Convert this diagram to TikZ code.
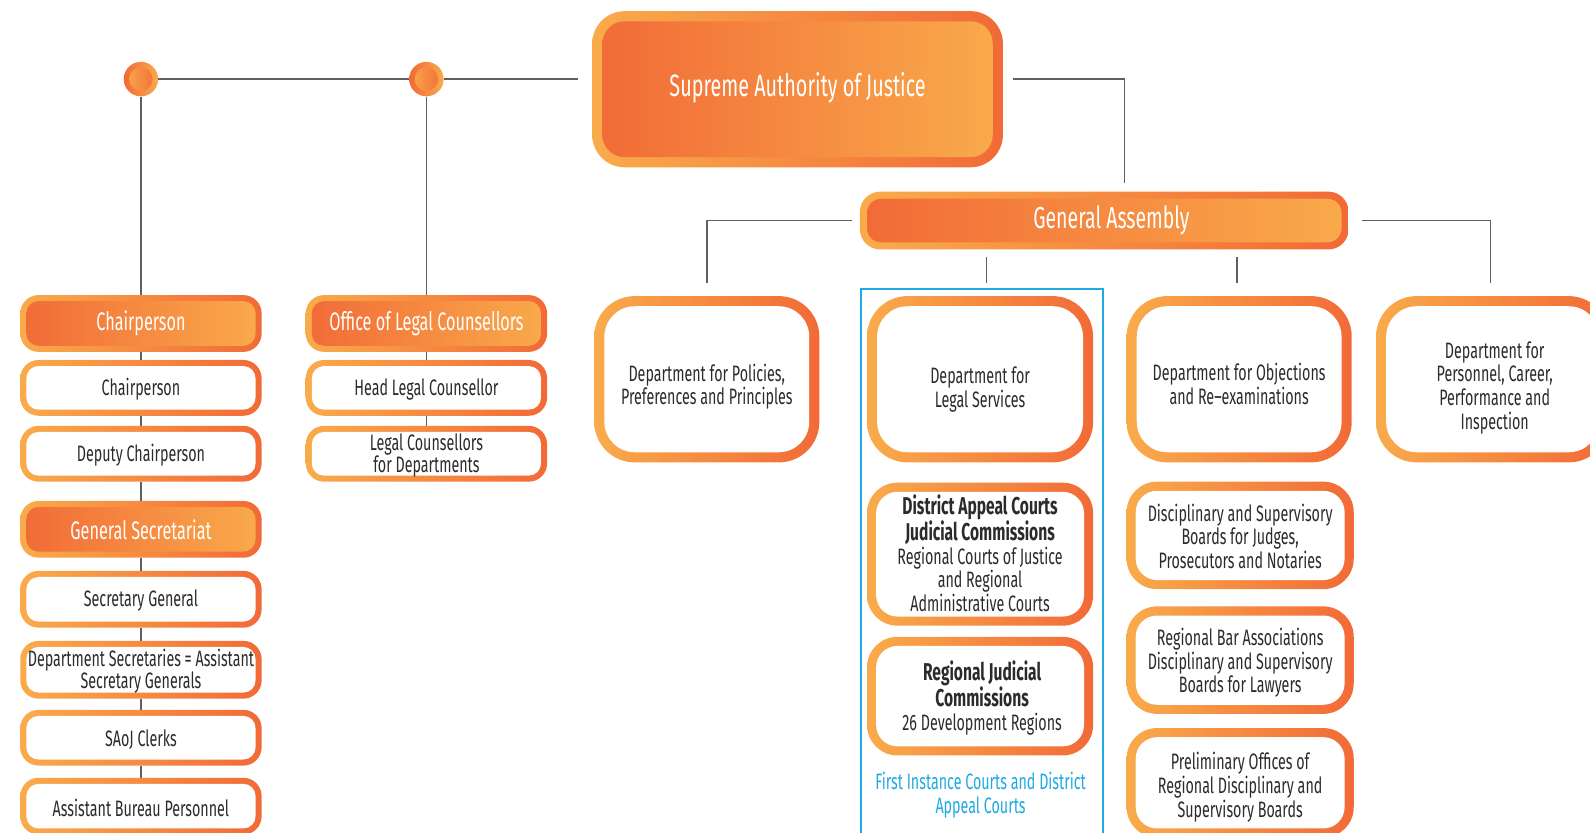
\documentclass[tikz,border=0pt]{standalone}
\usepackage{fontspec}
\setmainfont{Fira Sans}[FakeStretch=0.64]
\usetikzlibrary{calc}

\definecolor{ored}{HTML}{F26A37}
\definecolor{olight}{HTML}{F9AB4B}
\definecolor{cyanb}{HTML}{1FA9E1}
\definecolor{ink}{HTML}{2B2B2B}
\definecolor{wire}{HTML}{5F5F5F}

\newcommand{\smallfs}{\fontsize{22}{22}\selectfont}
\newcommand{\headfs}{\fontsize{25}{26}\selectfont}
\newcommand{\deptfs}{\fontsize{22}{23.5}\selectfont}
\newcommand{\boldline}[1]{{\fontsize{24}{23.5}\selectfont\bfseries #1}}

\tikzset{
  % inner panel drawn inside a node, inset from its edge by #1
  inset/.style n args={3}{path picture={
      \path[#3, rounded corners=#2]
        ([shift={(#1,#1)}]path picture bounding box.south west) rectangle
        ([shift={(-#1,-#1)}]path picture bounding box.north east);}},
  card/.style={rectangle, draw=none, left color=olight, right color=ored,
    align=center, text=ink, inner sep=0pt},
  whitebox/.style={card, minimum width=238pt, minimum height=55pt,
    rounded corners=18pt, inset={6pt}{12pt}{fill=white}},
  headbox/.style={card, minimum width=238pt, minimum height=56pt,
    rounded corners=18pt, inset={6pt}{12pt}{left color=ored, right color=olight}},
  deptbox/.style={card, minimum width=222pt, minimum height=164pt,
    rounded corners=40pt, inset={10pt}{30pt}{fill=white}},
  subbox/.style={card, minimum width=223pt, rounded corners=30pt,
    inset={9pt}{21pt}{fill=white}},
  % box captions
  lbl/.style={align=center, inner sep=0pt, text=ink, font=\smallfs, yshift=-1.5pt},
  hlbl/.style={lbl, text=white, font=\headfs, yshift=1.5pt},
  dlbl/.style={lbl, font=\deptfs, yshift=-5.5pt},
  slbl/.style={lbl, font=\deptfs},
  dot/.style={circle, minimum size=34pt, inner sep=0pt, draw=none,
    left color=ored, right color=olight,
    path picture={\path[left color=olight, right color=ored]
      (path picture bounding box.center) circle (11.5pt);}},
  wire/.style={draw=wire, line width=1.6pt},
}

\begin{document}
\begin{tikzpicture}[x=1pt, y=-1pt]
\useasboundingbox (0,0) rectangle (1568,821);

% top level
\node[card, minimum width=405pt, minimum height=154pt, rounded corners=32pt,
  inset={10pt}{22pt}{left color=ored, right color=olight},
  label={[hlbl, font=\fontsize{30.5}{33}\selectfont, yshift=1.5pt]center:Supreme Authority of Justice}] (saj) at (786.5,88) {};

\node[card, minimum width=482pt, minimum height=57pt, rounded corners=20pt,
  inset={7pt}{14pt}{left color=ored, right color=olight},
  label={[hlbl, font=\fontsize{30}{32}\selectfont, xshift=7pt]center:General Assembly}] (ga) at (1089,217.5) {};

\node[dot] (c1) at (139,78) {};
\node[dot] (c2) at (420.5,78) {};

% chairperson column
\node[headbox, label={[hlbl]center:Chairperson}] (chh) at (139,319) {};
\node[whitebox, label={[lbl]center:Chairperson}] (chp) at (139,382.5) {};
\node[whitebox, label={[lbl]center:Deputy Chairperson}] (dep) at (139,447.5) {};
\node[headbox, label={[hlbl]center:General Secretariat}] (gsh) at (139,522) {};
\node[whitebox, minimum height=56pt, label={[lbl]center:Secretary General}] (sgn) at (139,591) {};
\node[whitebox, minimum height=57pt, label={[lbl]center:{Department Secretaries = Assistant\\Secretary Generals}}] (dsc) at (139,660.5) {};
\node[whitebox, label={[lbl]center:SAoJ Clerks}] (clk) at (139,727.5) {};
\node[whitebox, minimum height=56pt, label={[lbl]center:Assistant Bureau Personnel}] (abp) at (139,795) {};

% legal counsellors column
\node[headbox, label={[hlbl]center:Office of Legal Counsellors}] (olc) at (420.5,319) {};
\node[whitebox, label={[lbl]center:Head Legal Counsellor}] (hlc) at (420.5,382.5) {};
\node[whitebox, label={[lbl]center:{Legal Counsellors\\for Departments}}] (lcd) at (420.5,447.5) {};

% departments
\node[deptbox, label={[dlbl, font=\fontsize{22}{21.5}\selectfont]center:{Department for Policies,\\Preferences and Principles}}] (pol) at (697,374) {};
\node[deptbox, minimum width=223pt, label={[dlbl, yshift=-3.5pt]center:{Department for\\Legal Services}}] (leg) at (966.5,374) {};
\node[deptbox, label={[dlbl, yshift=2.5pt]center:{Department for Objections\\and Re–examinations}}] (obj) at (1222,374) {};
\node[deptbox, minimum width=230pt, label={[dlbl, xshift=2pt, yshift=-1.5pt]center:{Department for\\Personnel, Career,\\Performance and\\Inspection}}] (per) at (1472,374) {};

% legal services group
\node[draw=cyanb, line width=2pt, minimum width=239pt, minimum height=560pt,
  anchor=north west, inner sep=0pt] (grp) at (848,284) {};
\node[subbox, minimum height=141pt, label={[slbl, yshift=2.5pt]center:{\boldline{District Appeal Courts}\\\boldline{Judicial Commissions}\\Regional Courts of Justice\\and Regional\\Administrative Courts}}] (dac) at (966.5,546.5) {};
\node[subbox, minimum height=117pt, label={[slbl, xshift=2pt]center:{\boldline{Regional Judicial}\\\boldline{Commissions}\\26 Development Regions}}] (rjc) at (966.5,686.5) {};
\node[align=center, text=cyanb, font=\deptfs, inner sep=0pt] (fic) at (967,784)
  {First Instance Courts and District\\Appeal Courts};

% objections sub-boards
\node[subbox, minimum width=224pt, minimum height=106pt, label={[slbl, yshift=0.5pt]center:{Disciplinary and Supervisory\\Boards for Judges,\\Prosecutors and Notaries}}] (dsj) at (1223,528) {};
\node[subbox, minimum width=224pt, minimum height=106pt, label={[slbl, yshift=-1pt]center:{Regional Bar Associations\\Disciplinary and Supervisory\\Boards for Lawyers}}] (rba) at (1223,651) {};
\node[subbox, minimum width=224pt, minimum height=108pt, label={[slbl, yshift=-2.5pt]center:{Preliminary Offices of\\Regional Disciplinary and\\Supervisory Boards}}] (pro) at (1223,772) {};

% connectors
\draw[wire] (c1) -- (c2);
\draw[wire] (c2) -- ($(saj.west)+(-14,-10)$);
\draw[wire] ($(saj.east)+(10,-10)$) -| ($(ga.north)+(20,-8)$);
\draw[wire] (c1) -- (chh.north);
\draw[wire] (c2) -- (olc.north);

\draw[wire] ($(ga.west)+(-8,0)$) -| ($(pol.north)+(0,-13)$);
\draw[wire] ($(ga.east)+(13,0)$) -| ($(per.north)+(-2,-13)$);
\draw[wire] ($(leg.north)+(6.5,-38)$) -- ($(leg.north)+(6.5,-13)$);
\draw[wire] ($(obj.north)+(-2,-38)$) -- ($(obj.north)+(-2,-13)$);

\foreach \a/\b in {chh/chp, chp/dep, dep/gsh, gsh/sgn, sgn/dsc, dsc/clk, clk/abp, olc/hlc, hlc/lcd}
  \draw[wire] (\a.south) -- (\b.north);

\end{tikzpicture}
\end{document}
